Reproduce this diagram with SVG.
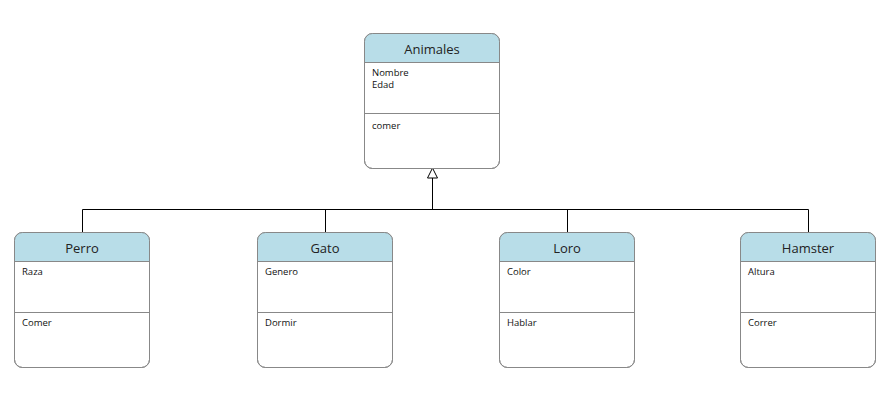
<svg xmlns="http://www.w3.org/2000/svg" width="892" height="412" viewBox="0 0 892 412">
<style>
.box{fill:#fff;stroke:#888;stroke-width:1}
.hdr{fill:#b8dde8}
.ln{stroke:#888;stroke-width:1}
.t{font-family:"Open Sans","DejaVu Sans",sans-serif;font-size:13px;fill:#222;text-anchor:middle}
.a{font-family:"Open Sans","DejaVu Sans",sans-serif;font-size:9.5px;fill:#111}
.c{fill:none;stroke:#000;stroke-width:1}
</style>
<defs>
<g id="cls">
<rect class="box" x="0.5" y="0.5" width="135" height="135" rx="8"/>
<path class="hdr" d="M0.5,29.5 V8.5 A8,8 0 0 1 8.5,0.5 H127.5 A8,8 0 0 1 135.5,8.5 V29.5 Z"/>
<rect x="0.5" y="0.5" width="135" height="135" rx="8" fill="none" stroke="#888"/>
<line class="ln" x1="0.5" y1="29.5" x2="135.5" y2="29.5"/>
<line class="ln" x1="0.5" y1="80.5" x2="135.5" y2="80.5"/>
</g>
</defs>
<g id="connectors">
<path class="c" d="M432.5,178 V209.5 M82.5,209.5 H808.5 M82.5,209.5 V232 M325.5,209.5 V232 M567.5,209.5 V232 M808.5,209.5 V232"/>
<polygon points="432.5,168 427.5,178 437.5,178" fill="#fff" stroke="#000" stroke-width="1"/>
</g>
<g id="animales" transform="translate(364,33)">
<use href="#cls"/>
<text class="t" x="68" y="21">Animales</text>
<text class="a" x="8" y="43">Nombre</text>
<text class="a" x="8" y="55">Edad</text>
<text class="a" x="8" y="96">comer</text>
</g>
<g id="perro" transform="translate(14,232)">
<use href="#cls"/>
<text class="t" x="68" y="21">Perro</text>
<text class="a" x="8" y="43">Raza</text>
<text class="a" x="8" y="94">Comer</text>
</g>
<g id="gato" transform="translate(257,232)">
<use href="#cls"/>
<text class="t" x="68" y="21">Gato</text>
<text class="a" x="8" y="43">Genero</text>
<text class="a" x="8" y="94">Dormir</text>
</g>
<g id="loro" transform="translate(499,232)">
<use href="#cls"/>
<text class="t" x="68" y="21">Loro</text>
<text class="a" x="8" y="43">Color</text>
<text class="a" x="8" y="94">Hablar</text>
</g>
<g id="hamster" transform="translate(740,232)">
<use href="#cls"/>
<text class="t" x="68" y="21">Hamster</text>
<text class="a" x="8" y="43">Altura</text>
<text class="a" x="8" y="94">Correr</text>
</g>
</svg>
